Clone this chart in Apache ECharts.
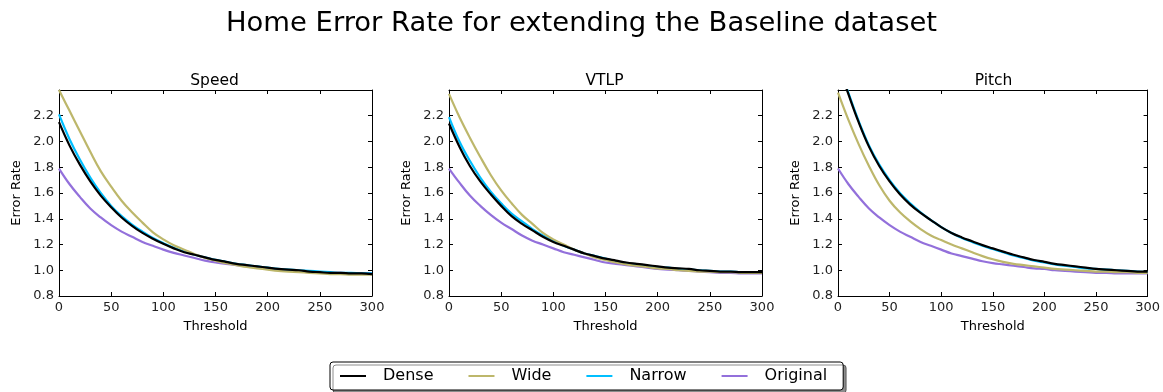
<!DOCTYPE html>
<html><head><meta charset="utf-8">
<script src="https://cdn.jsdelivr.net/npm/echarts@6/dist/echarts.min.js"></script>
<style>html,body{margin:0;padding:0;background:#fff}#c{width:1163px;height:392px}</style>
</head><body><div id="c"></div>
<script>
const thresholds = [0,10,20,30,40,50,60,70,80,90,100,110,120,130,140,150,160,170,180,190,200,210,220,230,240,250,260,270,280,290,300];
const panelTitles = ['Speed','VTLP','Pitch'];
const seriesNames = ['Dense','Wide','Narrow','Original'];
const xTicks = [0,50,100,150,200,250,300];
const yTicks = [0.8,1.0,1.2,1.4,1.6,1.8,2.0,2.2,2.4];

const speedDense = [2.15,1.97,1.82,1.69,1.58,1.49,1.41,1.345,1.29,1.245,1.205,1.17,1.14,1.12,1.10,1.08,1.065,1.05,1.04,1.03,1.02,1.01,1.005,1.00,0.99,0.985,0.98,0.98,0.975,0.975,0.97];
const speedWide = [2.40,2.24,2.08,1.92,1.77,1.65,1.54,1.45,1.37,1.295,1.24,1.195,1.16,1.125,1.095,1.075,1.055,1.04,1.025,1.015,1.005,0.995,0.99,0.985,0.98,0.975,0.97,0.97,0.965,0.965,0.965];
const speedNarrow = [2.21,2.02,1.86,1.72,1.60,1.50,1.42,1.355,1.30,1.25,1.21,1.175,1.145,1.12,1.10,1.08,1.065,1.05,1.04,1.03,1.02,1.01,1.005,1.00,0.995,0.99,0.985,0.98,0.98,0.975,0.975];
const speedOriginal = [1.79,1.67,1.57,1.48,1.41,1.35,1.30,1.26,1.22,1.19,1.16,1.135,1.115,1.095,1.075,1.06,1.05,1.04,1.03,1.02,1.01,1.005,1.00,0.995,0.99,0.985,0.98,0.98,0.975,0.975,0.975];

const vtlpDense = [2.14,1.96,1.81,1.69,1.59,1.50,1.42,1.36,1.31,1.26,1.22,1.19,1.16,1.13,1.11,1.09,1.075,1.06,1.05,1.04,1.03,1.02,1.015,1.01,1.00,0.995,0.99,0.99,0.985,0.985,0.985];
const vtlpWide = [2.37,2.19,2.03,1.88,1.74,1.62,1.52,1.43,1.36,1.29,1.24,1.20,1.16,1.13,1.10,1.08,1.06,1.045,1.035,1.025,1.015,1.01,1.00,0.995,0.99,0.99,0.985,0.985,0.98,0.98,0.98];
const vtlpNarrow = [2.19,2.00,1.85,1.72,1.61,1.52,1.44,1.38,1.32,1.27,1.23,1.19,1.16,1.13,1.11,1.09,1.07,1.055,1.045,1.035,1.025,1.02,1.01,1.005,1.00,0.995,0.99,0.99,0.985,0.985,0.98];
const vtlpOriginal = [1.79,1.68,1.58,1.50,1.43,1.37,1.32,1.27,1.23,1.20,1.17,1.14,1.12,1.10,1.08,1.06,1.05,1.04,1.03,1.02,1.01,1.005,1.00,0.995,0.99,0.985,0.98,0.98,0.975,0.975,0.975];

const pitchDense = [2.60,2.37,2.15,1.96,1.81,1.69,1.59,1.51,1.445,1.39,1.335,1.29,1.255,1.225,1.195,1.17,1.145,1.12,1.10,1.08,1.065,1.05,1.04,1.03,1.02,1.01,1.005,1.00,0.995,0.99,0.99];
const pitchWide = [2.38,2.17,1.98,1.81,1.66,1.54,1.45,1.38,1.32,1.27,1.235,1.20,1.17,1.14,1.11,1.085,1.065,1.05,1.04,1.03,1.02,1.01,1.005,1.00,0.995,0.99,0.99,0.985,0.985,0.98,0.98];
const pitchNarrow = [2.62,2.38,2.16,1.97,1.82,1.70,1.60,1.52,1.45,1.39,1.335,1.29,1.25,1.22,1.19,1.165,1.14,1.115,1.095,1.075,1.06,1.045,1.035,1.025,1.015,1.01,1.005,1.00,0.995,0.99,0.985];
const pitchOriginal = [1.79,1.67,1.57,1.48,1.41,1.35,1.30,1.26,1.22,1.19,1.16,1.13,1.11,1.09,1.07,1.055,1.045,1.035,1.025,1.015,1.01,1.00,0.995,0.99,0.985,0.98,0.98,0.975,0.975,0.975,0.975];

const colors = ['#000000','#BDB76B','#00BFFF','#9370DB'];
const panels = [
  [speedDense, speedWide, speedNarrow, speedOriginal],
  [vtlpDense, vtlpWide, vtlpNarrow, vtlpOriginal],
  [pitchDense, pitchWide, pitchNarrow, pitchOriginal]
];

const FONT = 'DejaVu Sans';
const gridLefts = [59, 449, 838];
const gridW = 313, gridTop = 90, gridH = 206;

const grids = [], xAxes = [], yAxes = [], series = [];
const titles = [{text:'Home Error Rate for extending the Baseline dataset', left:'center', top:5,
  textStyle:{fontFamily:FONT, fontSize:27.4, fontWeight:'normal', color:'#000'}}];

panels.forEach((p, i) => {
  grids.push({left:gridLefts[i], top:gridTop, width:gridW, height:gridH, containLabel:false});
  titles.push({text:panelTitles[i], left:gridLefts[i]+gridW/2-6, top:68, textAlign:'center',
    textStyle:{fontFamily:FONT, fontSize:15.5, fontWeight:'normal', color:'#000'}});
  const axisLine = {show:true, onZero:false, lineStyle:{color:'#000', width:1}};
  const tick = {show:true, inside:true, length:4, lineStyle:{color:'#000'}};
  xAxes.push({gridIndex:i, type:'value', min:0, max:300, interval:50, position:'bottom',
    axisLine, axisTick:tick, splitLine:{show:false},
    axisLabel:{fontFamily:FONT, fontSize:13, color:'#222', margin:5},
    name:'Threshold', nameLocation:'middle', nameGap:24,
    nameTextStyle:{fontFamily:FONT, fontSize:13, color:'#000'}});
  xAxes.push({gridIndex:i, type:'value', min:0, max:300, interval:50, position:'top',
    axisLine, axisTick:tick, axisLabel:{show:false}, splitLine:{show:false}});
  yAxes.push({gridIndex:i, type:'value', min:0.8, max:2.4, interval:0.2, position:'left',
    axisLine, axisTick:tick, splitLine:{show:false},
    axisLabel:{fontFamily:FONT, fontSize:13, color:'#222', margin:5, showMaxLabel:false,
      formatter:v => v.toFixed(1)},
    name:'Error Rate', nameLocation:'middle', nameGap:36,
    nameTextStyle:{fontFamily:FONT, fontSize:13, color:'#000'}});
  yAxes.push({gridIndex:i, type:'value', min:0.8, max:2.4, interval:0.2, position:'right',
    axisLine, axisTick:tick, axisLabel:{show:false}, splitLine:{show:false}});
  p.forEach((vals, k) => {
    series.push({type:'line', name:seriesNames[k], xAxisIndex:i*2, yAxisIndex:i*2,
      data: thresholds.map((t, j) => [t, vals[j]]),
      showSymbol:false, symbol:'none', smooth:0.4, clip:true,
      lineStyle:{color:colors[k], width:2.2}, itemStyle:{color:colors[k]}, z:10-k});
  });
});

const chart = echarts.init(document.getElementById('c'), null, {renderer:'canvas'});
chart.setOption({
  animation:false,
  backgroundColor:'#fff',
  title:titles,
  grid:grids, xAxis:xAxes, yAxis:yAxes, series,
  legend:{data:seriesNames, left:330, top:362, orient:'horizontal',
    icon:'rect', itemWidth:26, itemHeight:2, itemGap:35,
    padding:[6,16,6,10], borderColor:'#000', borderWidth:1, borderRadius:3,
    backgroundColor:'#fff', shadowColor:'rgba(0,0,0,0.45)', shadowOffsetX:3, shadowOffsetY:3, shadowBlur:0,
    textStyle:{fontFamily:FONT, fontSize:16, color:'#000', padding:[0,0,0,12]}}
});
</script></body></html>
